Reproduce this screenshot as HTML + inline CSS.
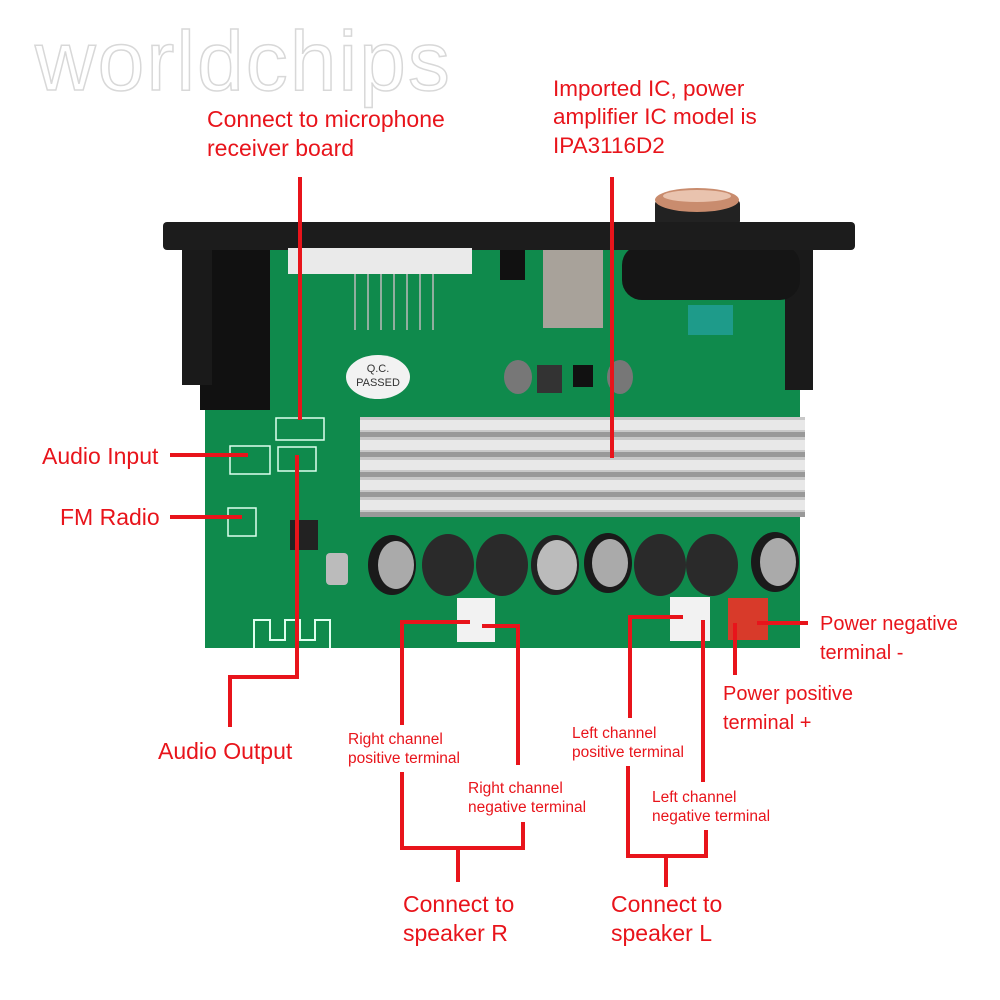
<!DOCTYPE html>
<html><head><meta charset="utf-8"><style>
html,body{margin:0;padding:0;background:#fff;}
svg{display:block}
.t{font-family:"Liberation Sans",sans-serif;fill:#e8141b}
</style></head><body>
<svg width="1000" height="1000" viewBox="0 0 1000 1000" xmlns="http://www.w3.org/2000/svg">
<text x="35" y="90" font-family="Liberation Sans,sans-serif" font-size="84" letter-spacing="2" fill="#fff" stroke="#d8d8d8" stroke-width="1.5">worldchips</text>
<rect x="655" y="200" width="85" height="25" rx="4" fill="#222"/>
<ellipse cx="697" cy="200" rx="42" ry="12" fill="#c98c6e"/>
<ellipse cx="697" cy="196" rx="34" ry="6" fill="#e9c3ae"/>
<rect x="222" y="250" width="578" height="398" fill="#0f8a4c"/>
<rect x="205" y="410" width="40" height="238" fill="#0f8a4c"/>
<rect x="200" y="245" width="70" height="165" fill="#111"/>
<rect x="182" y="245" width="30" height="140" fill="#1a1a1a"/>
<rect x="785" y="245" width="28" height="145" fill="#1a1a1a"/>
<rect x="622" y="245" width="178" height="55" rx="20" fill="#151515"/>
<rect x="688" y="305" width="45" height="30" fill="#1e9b8a"/>
<rect x="163" y="222" width="692" height="28" rx="4" fill="#1c1c1c"/>
<rect x="288" y="248" width="184" height="26" fill="#eaeaea"/>
<g stroke="#bbb" stroke-width="1.5"><line x1="355" y1="274" x2="355" y2="330"/><line x1="368" y1="274" x2="368" y2="330"/><line x1="381" y1="274" x2="381" y2="330"/><line x1="394" y1="274" x2="394" y2="330"/><line x1="407" y1="274" x2="407" y2="330"/><line x1="420" y1="274" x2="420" y2="330"/><line x1="433" y1="274" x2="433" y2="330"/></g>
<rect x="543" y="250" width="60" height="78" fill="#a8a29a"/>
<rect x="500" y="250" width="25" height="30" fill="#111"/>
<ellipse cx="378" cy="377" rx="32" ry="22" fill="#f2f2f2"/>
<text x="378" y="372" text-anchor="middle" font-family="Liberation Sans,sans-serif" font-size="11" fill="#333">Q.C.</text>
<text x="378" y="386" text-anchor="middle" font-family="Liberation Sans,sans-serif" font-size="11" fill="#333">PASSED</text>
<ellipse cx="518" cy="377" rx="14" ry="17" fill="#777"/>
<rect x="537" y="365" width="25" height="28" fill="#333"/>
<rect x="573" y="365" width="20" height="22" fill="#111"/>
<ellipse cx="620" cy="377" rx="13" ry="17" fill="#777"/>
<rect x="360" y="417" width="445" height="100" fill="#c8c8c8"/>
<g fill="#e8e8e8"><rect x="360" y="420" width="445" height="10"/><rect x="360" y="440" width="445" height="10"/><rect x="360" y="460" width="445" height="10"/><rect x="360" y="480" width="445" height="10"/><rect x="360" y="500" width="445" height="10"/></g>
<g fill="#999"><rect x="360" y="432" width="445" height="5"/><rect x="360" y="452" width="445" height="5"/><rect x="360" y="472" width="445" height="5"/><rect x="360" y="492" width="445" height="5"/><rect x="360" y="512" width="445" height="5"/></g>
<g>
<ellipse cx="392" cy="565" rx="24" ry="30" fill="#1a1a1a"/><ellipse cx="396" cy="565" rx="18" ry="24" fill="#aaa"/>
<ellipse cx="448" cy="565" rx="26" ry="31" fill="#2a2a2a"/>
<ellipse cx="502" cy="565" rx="26" ry="31" fill="#2a2a2a"/>
<ellipse cx="555" cy="565" rx="24" ry="30" fill="#222"/><ellipse cx="557" cy="565" rx="20" ry="25" fill="#bbb"/>
<ellipse cx="608" cy="563" rx="24" ry="30" fill="#1a1a1a"/><ellipse cx="610" cy="563" rx="18" ry="24" fill="#aaa"/>
<ellipse cx="660" cy="565" rx="26" ry="31" fill="#2a2a2a"/>
<ellipse cx="712" cy="565" rx="26" ry="31" fill="#2a2a2a"/>
<ellipse cx="775" cy="562" rx="24" ry="30" fill="#1a1a1a"/><ellipse cx="778" cy="562" rx="18" ry="24" fill="#aaa"/>
</g>
<rect x="326" y="553" width="22" height="32" rx="4" fill="#bbb"/>
<rect x="290" y="520" width="28" height="30" fill="#222"/>
<rect x="276" y="418" width="48" height="22" fill="none" stroke="#dfe" stroke-width="1.5"/>
<rect x="230" y="446" width="40" height="28" fill="none" stroke="#dfe" stroke-width="1.5"/>
<rect x="278" y="447" width="38" height="24" fill="none" stroke="#dfe" stroke-width="1.5"/>
<rect x="228" y="508" width="28" height="28" fill="none" stroke="#dfe" stroke-width="1.5"/>
<path d="M254 648 V620 H270 V640 H285 V620 H300 V640 H315 V620 H330 V648" fill="none" stroke="#dfe" stroke-width="2"/>
<rect x="457" y="598" width="38" height="44" fill="#f2f2f2"/>
<rect x="670" y="597" width="40" height="44" fill="#f2f2f2"/>
<rect x="728" y="598" width="40" height="42" fill="#d83a2a"/>
<g stroke="#e8141b" stroke-width="4" fill="none">
<path d="M300 177 V420"/>
<path d="M612 177 V458"/>
<path d="M170 455 H248"/>
<path d="M170 517 H242"/>
<path d="M297 455 V677 H230 V727"/>
<path d="M470 622 H402 V725"/>
<path d="M482 626 H518 V765"/>
<path d="M402 772 V848 H523 V822"/>
<path d="M458 848 V882"/>
<path d="M683 617 H630 V718"/>
<path d="M703 620 V782"/>
<path d="M628 766 V856 H706 V830"/>
<path d="M666 856 V887"/>
<path d="M735 623 V675"/>
<path d="M757 623 H808"/>
</g>
<g class="t" font-size="23">
<text x="207" y="127">Connect to microphone</text>
<text x="207" y="156">receiver board</text>
<text x="553" y="96" font-size="22.5">Imported IC, power</text>
<text x="553" y="124" font-size="22.5">amplifier IC model is</text>
<text x="553" y="153" font-size="22.5">IPA3116D2</text>
<text x="42" y="464">Audio Input</text>
<text x="60" y="525">FM Radio</text>
<text x="158" y="759">Audio Output</text>
<text x="403" y="912">Connect to</text>
<text x="403" y="941">speaker R</text>
<text x="611" y="912">Connect to</text>
<text x="611" y="941">speaker L</text>
</g>
<g class="t" font-size="20">
<text x="820" y="630">Power negative</text>
<text x="820" y="659">terminal -</text>
<text x="723" y="700">Power positive</text>
<text x="723" y="729">terminal +</text>
</g>
<g class="t" font-size="15.5">
<text x="348" y="744">Right channel</text>
<text x="348" y="763">positive terminal</text>
<text x="468" y="793">Right channel</text>
<text x="468" y="812">negative terminal</text>
<text x="572" y="738">Left channel</text>
<text x="572" y="757">positive terminal</text>
<text x="652" y="802">Left channel</text>
<text x="652" y="821">negative terminal</text>
</g>
</svg>
</body></html>
